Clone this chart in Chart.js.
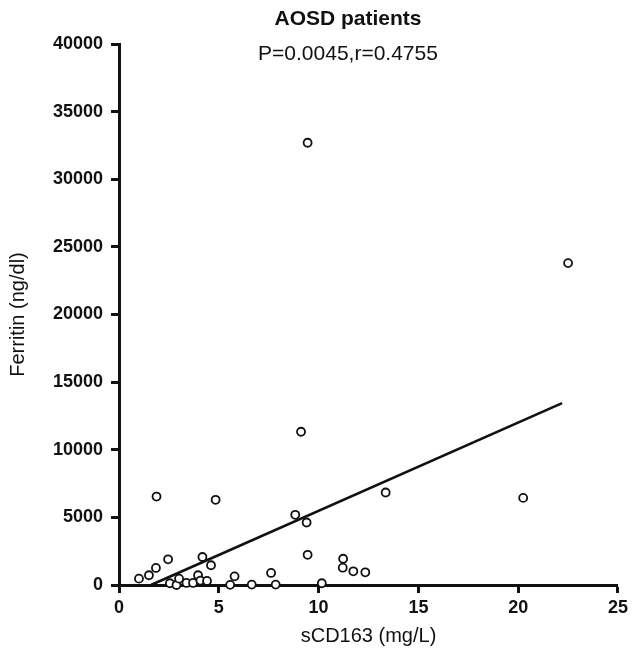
<!DOCTYPE html>
<html>
<head>
<meta charset="utf-8">
<script src="https://cdn.jsdelivr.net/npm/chart.js@4.4.0/dist/chart.umd.min.js"></script>
<style>
  html, body { margin: 0; padding: 0; background: #fff; }
  #wrap { width: 632px; height: 652px; position: relative; }
</style>
</head>
<body>
<div id="wrap"><canvas id="c" width="632" height="652"></canvas></div>
<script>
const chartTitle = "AOSD patients";
const chartSubtitle = "P=0.0045,r=0.4755";
const xTitle = "sCD163 (mg/L)";
const yTitle = "Ferritin (ng/dl)";

const xTicks = [0, 5, 10, 15, 20, 25];
const yTicks = [0, 5000, 10000, 15000, 20000, 25000, 30000, 35000, 40000];

const sCD163 = [9.45, 22.5, 9.12, 13.36, 8.83, 9.40, 9.45, 11.23, 11.21, 11.74, 12.34,
                6.65, 7.85, 7.62, 10.16, 1.88, 4.84, 20.25, 1.0, 1.5, 1.85, 2.46,
                4.18, 4.61, 2.55, 2.88, 3.01, 3.38, 3.71, 3.96, 4.08, 4.41, 5.57, 5.79];
const ferritin = [32700, 23800, 11330, 6840, 5190, 4620, 2230, 1940, 1280, 1010, 940,
                  30, 30, 890, 130, 6540, 6300, 6440, 470, 720, 1260, 1900,
                  2070, 1460, 130, 0, 470, 150, 150, 720, 330, 300, 10, 640];

const fitX = [1.6, 22.2];
const fitY = [0, 13450];

const points = sCD163.map((x, i) => ({ x: x, y: ferritin[i] }));
const fitLine = fitX.map((x, i) => ({ x: x, y: fitY[i] }));

const FONT = "'Liberation Sans', Arial, Helvetica, sans-serif";

const titlePlugin = {
  id: 'titles',
  afterDraw(chart) {
    const ctx = chart.ctx;
    ctx.save();
    ctx.fillStyle = '#111';
    ctx.textAlign = 'center';
    ctx.textBaseline = 'middle';
    ctx.font = "bold 21px " + FONT;
    ctx.fillText(chartTitle, 348, 19);
    ctx.font = "21px " + FONT;
    ctx.fillText(chartSubtitle, 348, 54);
    ctx.restore();
  }
};

new Chart(document.getElementById('c'), {
  type: 'scatter',
  data: {
    datasets: [
      {
        data: points,
        pointRadius: 4,
        pointBorderWidth: 1.8,
        pointBorderColor: '#111',
        pointBackgroundColor: '#fff',
        showLine: false,
        clip: false,
        order: 0
      },
      {
        data: fitLine,
        showLine: true,
        borderColor: '#111',
        borderWidth: 2.6,
        pointRadius: 0,
        fill: false,
        clip: false,
        order: 1
      }
    ]
  },
  options: {
    responsive: false,
    animation: false,
    layout: { padding: { top: 44, right: 11, bottom: 0, left: 0 } },
    plugins: { legend: { display: false }, tooltip: { enabled: false } },
    scales: {
      x: {
        type: 'linear',
        min: 0, max: 25,
        afterBuildTicks: (s) => { s.ticks = xTicks.map(v => ({ value: v })); },
        afterFit: (s) => { s.height = 67; },
        border: { display: true, color: '#111', width: 3 },
        grid: { display: true, drawOnChartArea: false, drawTicks: true, tickLength: 8, tickColor: '#111', tickWidth: 3 },
        ticks: { color: '#111', font: { family: FONT, size: 18, weight: 'bold' }, padding: 4, maxRotation: 0 },
        title: { display: true, text: xTitle, color: '#111', font: { family: FONT, size: 20 }, padding: { top: 0, bottom: 4 } }
      },
      y: {
        type: 'linear',
        min: 0, max: 40000,
        afterBuildTicks: (s) => { s.ticks = yTicks.map(v => ({ value: v })); },
        afterFit: (s) => { s.width = 119; },
        border: { display: true, color: '#111', width: 3 },
        grid: { display: true, drawOnChartArea: false, drawTicks: true, tickLength: 8, tickColor: '#111', tickWidth: 3 },
        ticks: { color: '#111', font: { family: FONT, size: 18, weight: 'bold' }, padding: 8, callback: (v) => String(v) },
        title: { display: true, text: yTitle, color: '#111', font: { family: FONT, size: 20 }, padding: { top: 6, bottom: 0 } }
      }
    }
  },
  plugins: [titlePlugin]
});
</script>
</body>
</html>
